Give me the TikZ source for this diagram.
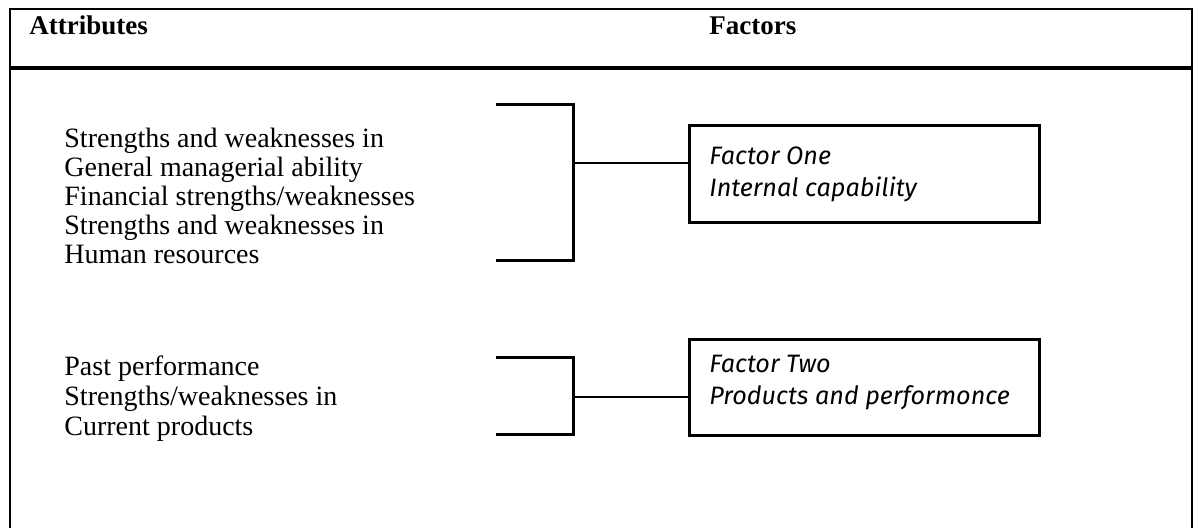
\documentclass[tikz,border=0pt]{standalone}
\usepackage{fontspec}
\setmainfont{Liberation Serif}
\newfontfamily\factorfont{Fira Sans}
\begin{document}
\begin{tikzpicture}[x=0.5pt,y=-0.5pt,
  frameline/.style={line width=1.2pt},
  ruleline/.style={line width=2pt},
  bracketline/.style={line width=1.5pt},
  linkline/.style={line width=1pt},
  factorbox/.style={draw,line width=1.5pt,minimum width=175pt,minimum height=48.5pt,anchor=north west,inner sep=0pt},
  headtext/.style={anchor=base west,inner sep=0pt,font=\fontsize{13.5}{15}\selectfont\bfseries},
  attrtext/.style={anchor=base west,inner sep=0pt,font=\fontsize{14}{14.4}\selectfont},
  lowertext/.style={attrtext,font=\fontsize{14}{15}\selectfont},
  factortext/.style={anchor=base west,inner sep=0pt,font=\fontsize{12.6}{16}\selectfont\factorfont\itshape}]
\useasboundingbox (0,0) rectangle (1194,528);

% table frame, open at the bottom
\draw[frameline] (10,528) -- (10,9) -- (1192,9) -- (1192,528);
\draw[ruleline] (10,68) -- (1192,68);

% column headings
\node[headtext] (hattr) at (29,35) {Attributes};
\node[headtext] (hfact) at (709,35) {Factors};

% attribute groups
\node[attrtext] (grpone) at (64,148) {\begin{tabular}[t]{@{}l@{}}
Strengths and weaknesses in\\
General managerial ability\\
Financial strengths/weaknesses\\
Strengths and weaknesses in\\
Human resources\end{tabular}};
\node[lowertext] (grptwo) at (64,376) {\begin{tabular}[t]{@{}l@{}}
Past performance\\
Strengths/weaknesses in\\
Current products\end{tabular}};

% factor boxes
\node[factorbox] (fone) at (688,124) {};
\node[factorbox,minimum height=48pt] (ftwo) at (688,338) {};
\node[factortext] (tone) at (709,165) {\begin{tabular}[t]{@{}l@{}}Factor One\\Internal capability\end{tabular}};
\node[factortext] (ttwo) at (709,373) {\begin{tabular}[t]{@{}l@{}}Factor Two\\Products and performonce\end{tabular}};

% brackets joining each group to its factor
\coordinate (bonetop) at (496,105);
\coordinate (bonebot) at (496,261);
\coordinate (bonemid) at (573,163);
\draw[bracketline] (bonetop) -| (bonemid |- bonebot) -- (bonebot);
\draw[linkline] (bonemid) -- (bonemid -| fone.west);

\coordinate (btwotop) at (496,358);
\coordinate (btwobot) at (496,435);
\coordinate (btwomid) at (573,397);
\draw[bracketline] (btwotop) -| (btwomid |- btwobot) -- (btwobot);
\draw[linkline] (btwomid) -- (btwomid -| ftwo.west);
\end{tikzpicture}
\end{document}
